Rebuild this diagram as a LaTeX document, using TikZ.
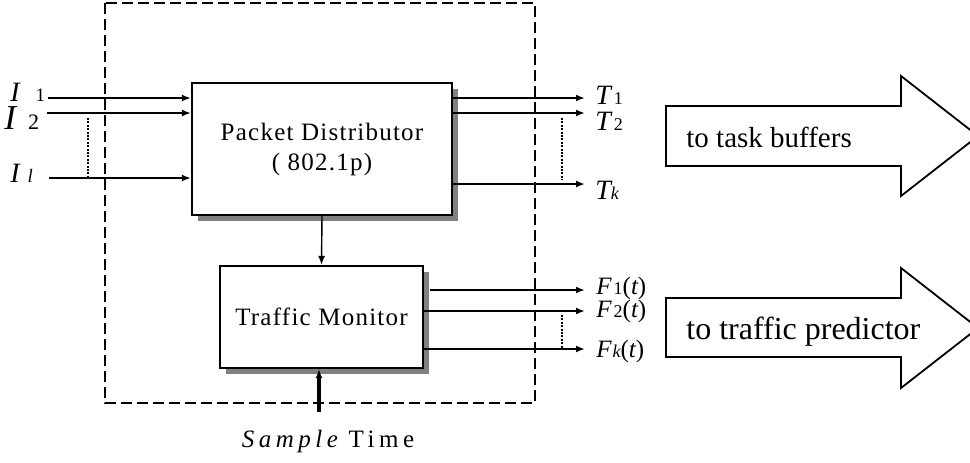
\documentclass[tikz,border=0pt]{standalone}
\usepackage{fontspec}
\setmainfont{Liberation Serif}
\newfontfamily\spacedfont[LetterSpace=5]{Liberation Serif}
\newfontfamily\widefont[LetterSpace=18]{Liberation Serif}
\usetikzlibrary{arrows.meta,shadows}
\definecolor{shadowgray}{RGB}{128,128,128}
\tikzset{>/.tip={Latex[length=4.5pt,width=3.5pt]},
  block/.style={draw,line width=1.1pt,fill=white,inner sep=0pt,align=center,
    font=\fontsize{12.5}{15}\selectfont\spacedfont,
    drop shadow={shadow xshift=3pt,shadow yshift=-3pt,fill=shadowgray,opacity=1}},
  sigline/.style={->,line width=1.2pt},
  gapline/.style={line width=1.3pt,dash pattern=on 1pt off 0.7pt},
  bigarrow/.style={draw,line width=0.9pt,fill=white},
  siglabel/.style={anchor=base west,inner sep=0pt}}

\begin{document}
\begin{tikzpicture}[x=0.5pt,y=-0.5pt]
\useasboundingbox (0,0) rectangle (970,462);
% frame
\draw[line width=1.4pt,dash pattern=on 5.5pt off 2.5pt] (105,3) rectangle (535,403);
% blocks
\node[block,minimum width=130pt,minimum height=66pt] (pd) at (322,149)
  {Packet Distributor\\( 802.1p)};
\node[block,minimum width=101.5pt,minimum height=51pt] (tm) at (321.5,317)
  {Traffic Monitor};
\draw[->,line width=0.7pt] (pd.south) -- (tm.north);
% inputs
\coordinate (i1) at (48,98);
\coordinate (i2) at (47,113);
\coordinate (il) at (49,178);
\foreach \c in {i1,i2,il}
  \draw[sigline] (\c) -- (\c -| pd.west);
\draw[gapline] (88,118) -- (88,178);
\node[siglabel] (li1) at (10,101) {\fontsize{14}{14}\selectfont\itshape I\hspace{8pt}\upshape\fontsize{9.5}{9.5}\selectfont 1};
\node[siglabel] (li2) at (4,129) {\fontsize{17.5}{17.5}\selectfont\itshape I\hspace{6pt}\upshape\fontsize{11}{11}\selectfont 2};
\node[siglabel] (lil) at (10,182) {\fontsize{14}{14}\selectfont\itshape I\hspace{4pt}\fontsize{9.5}{9.5}\selectfont l};
% task outputs
\coordinate (t1) at (585,98);
\coordinate (t2) at (585,113);
\coordinate (tk) at (585,184);
\foreach \c in {t1,t2,tk}
  \draw[sigline] (\c -| pd.east) -- (\c);
\draw[gapline] (562,118) -- (562,180);
\node[siglabel] (lt1) at (595,104) {\fontsize{14}{14}\selectfont\itshape T\hspace{1.5pt}\upshape\fontsize{9}{9}\selectfont 1};
\node[siglabel] (lt2) at (595,130) {\fontsize{14}{14}\selectfont\itshape T\hspace{1.5pt}\upshape\fontsize{9}{9}\selectfont 2};
\node[siglabel] (ltk) at (595,199) {\fontsize{14}{14}\selectfont\itshape T\fontsize{9}{9}\selectfont k};
% monitor outputs
\coordinate (f1) at (585,290);
\coordinate (f2) at (585,311);
\coordinate (fk) at (585,349);
\draw[sigline] ([xshift=3pt]tm.east |- f1) -- (f1);
\draw[sigline] (tm.east |- f2) -- (f2);
\draw[sigline] (tm.east |- fk) -- (fk);
\draw[gapline] (562,315) -- (562,350);
\node[siglabel] (lf1) at (596,294) {\fontsize{12.5}{12.5}\selectfont\itshape F\hspace{1pt}\upshape\fontsize{9}{9}\selectfont 1\fontsize{12.5}{12.5}\selectfont(\itshape t\upshape)};
\node[siglabel] (lf2) at (596,317) {\fontsize{12.5}{12.5}\selectfont\itshape F\hspace{1pt}\upshape\fontsize{9}{9}\selectfont 2\fontsize{12.5}{12.5}\selectfont(\itshape t\upshape)};
\node[siglabel] (lfk) at (596,357) {\fontsize{12.5}{12.5}\selectfont\itshape F\hspace{0.5pt}\fontsize{9}{9}\selectfont k\upshape\fontsize{12.5}{12.5}\selectfont(\itshape t\upshape)};
% sample time
\coordinate (st) at (319,412);
\draw[->,line width=1.8pt] (st) -- (st |- tm.south);
\node[anchor=base,inner sep=0pt] (lst) at (328,447) {\fontsize{12.5}{12.5}\selectfont\widefont\itshape Sample\upshape\ Time};
% big arrows
\draw[bigarrow] (666,106) -- (901,106) -- (901,76) -- (978,136) -- (901,196) -- (901,166) -- (666,166) -- cycle;
\node[siglabel] (tb) at (686,147) {\fontsize{14.5}{14.5}\selectfont to task buffers};
\draw[bigarrow] (666,298) -- (901,298) -- (901,268) -- (978,328) -- (901,388) -- (901,357) -- (666,357) -- cycle;
\node[siglabel] (tp) at (686,339) {\fontsize{16}{16}\selectfont to traffic predictor};
\end{tikzpicture}
\end{document}
